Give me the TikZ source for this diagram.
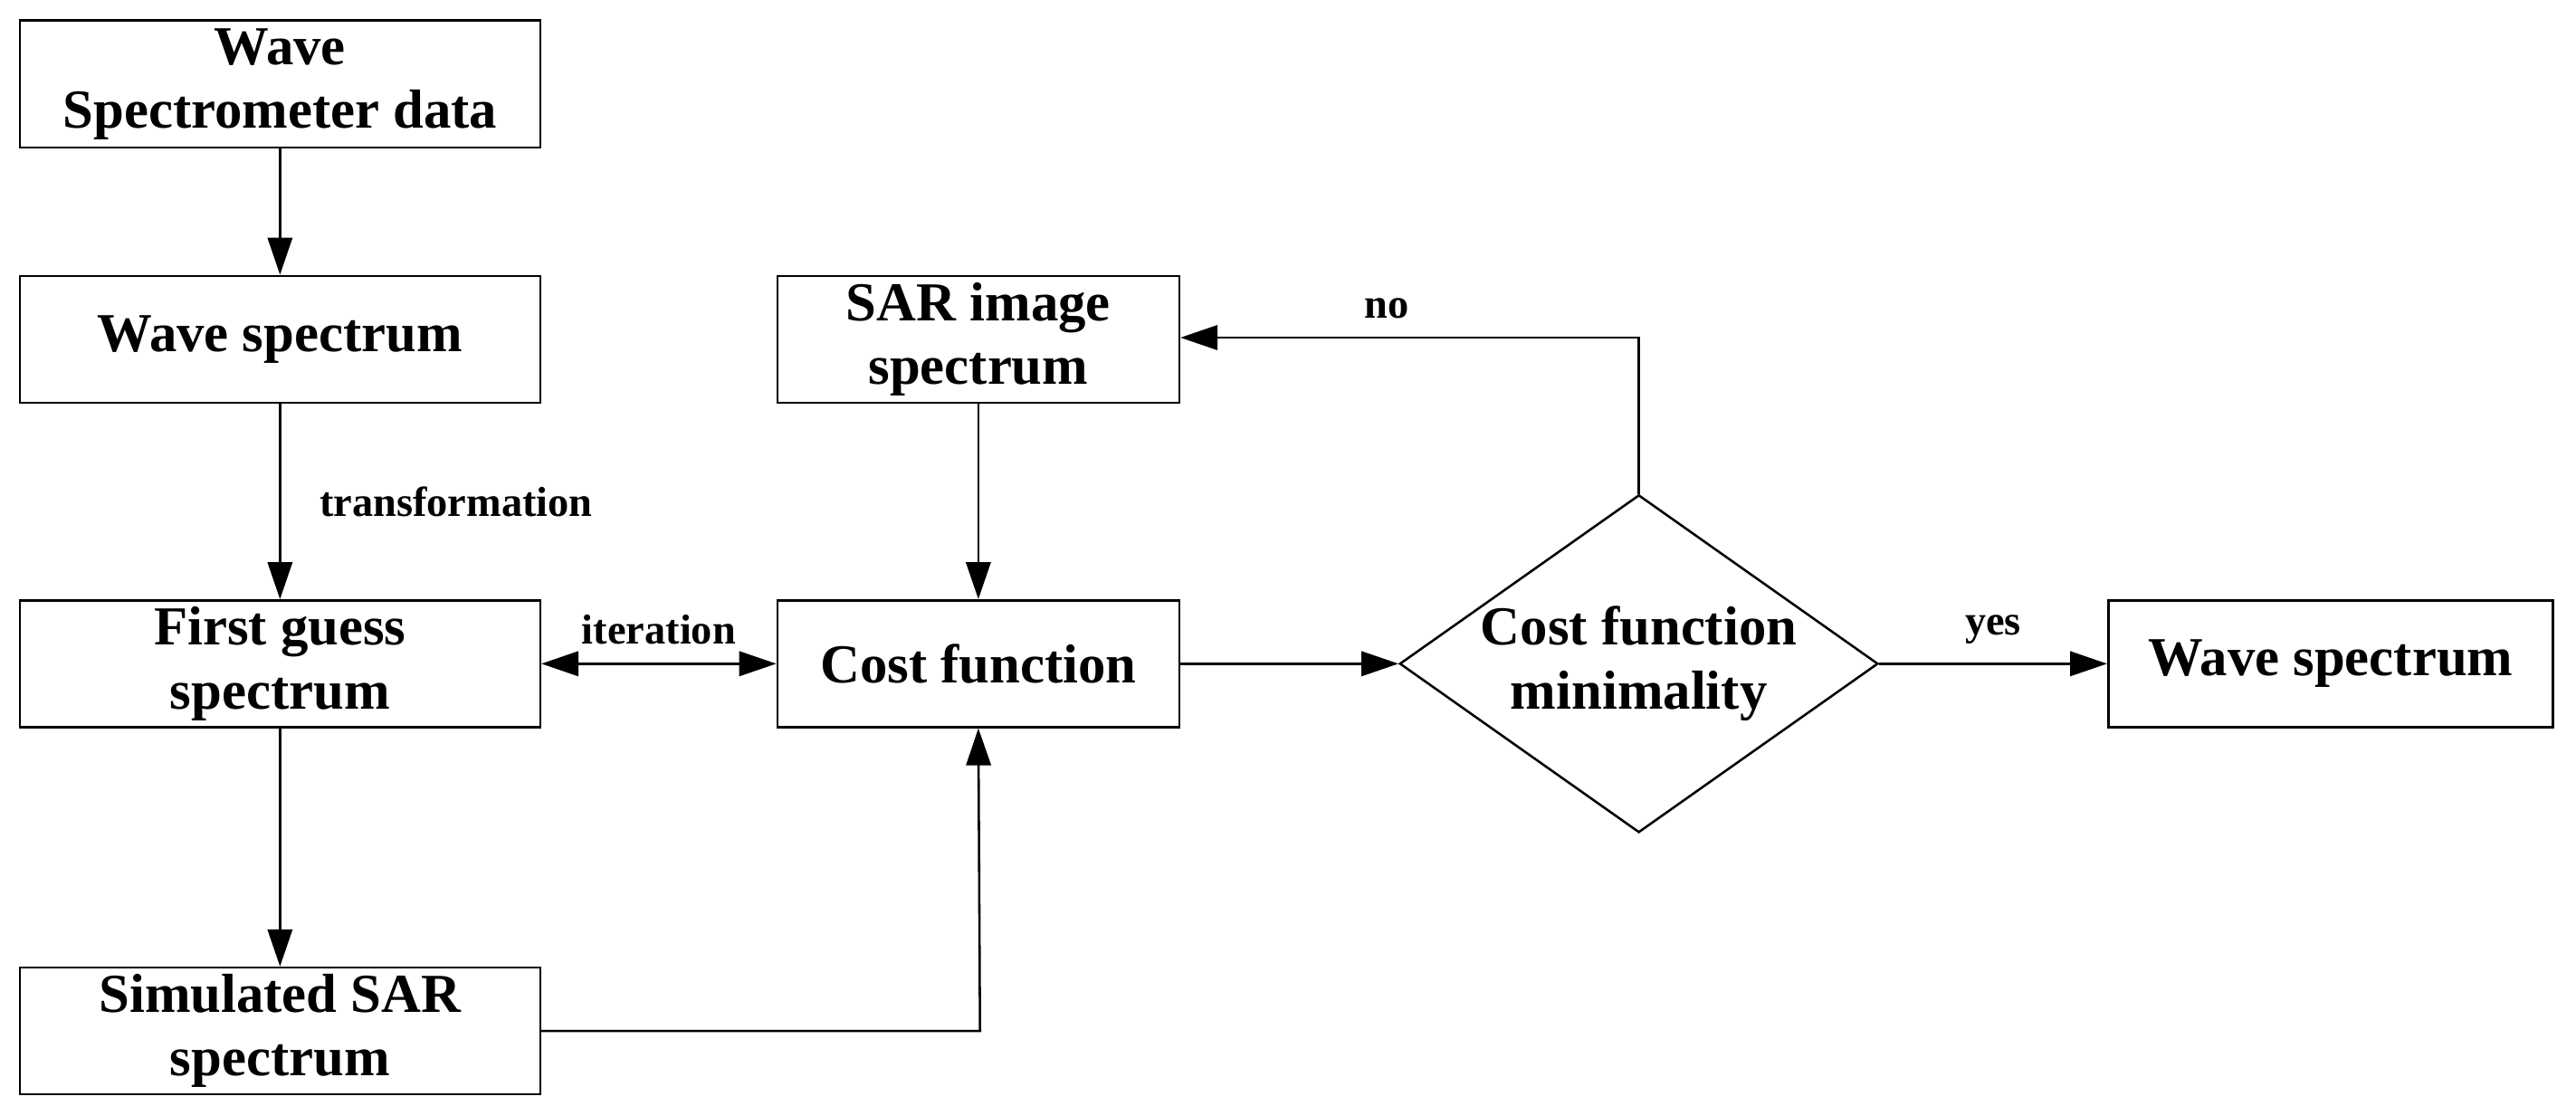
\documentclass[tikz,border=0pt]{standalone}
\usepackage{fontspec}
\setmainfont{Liberation Serif}
\usetikzlibrary{arrows.meta,shapes.geometric}
\begin{document}
\begin{tikzpicture}[x=0.02cm,y=-0.02cm,
  box/.style={draw,line width=0.8pt,minimum width=316*0.02cm,minimum height=77*0.02cm,align=center,font=\fontsize{19}{22}\selectfont\bfseries,inner sep=1pt},
  lab/.style={font=\fontsize{14.5}{17}\selectfont\bfseries},
  arr/.style={line width=0.8pt,-{Triangle[length=0.45cm,width=0.3cm]}}]
\useasboundingbox (0,0) rectangle (1564,671);
\node[box] (a) at (170,51) {Wave\\Spectrometer data};
\node[box] (b) at (170,206) {Wave spectrum};
\node[box] (c) at (170,403) {First guess\\spectrum};
\node[box] (d) at (170,626) {Simulated SAR\\spectrum};
\node[box,minimum width=244*0.02cm] (s) at (594,206) {SAR image\\spectrum};
\node[box,minimum width=244*0.02cm] (f) at (594,403) {Cost function};
\node[draw,line width=0.8pt,diamond,aspect=1.42,minimum width=290*0.02cm,minimum height=205*0.02cm,inner sep=0pt,align=center,font=\fontsize{19}{22}\selectfont\bfseries] (m) at (995,403) {Cost function\\minimality};
\node[box,minimum width=270*0.02cm] (w) at (1415,403) {Wave spectrum};
\coordinate (t1) at (995,205);
\coordinate (t2) at (595,626);
\draw[arr] (a) -- (b);
\draw[arr] (b) -- (c) node[lab,pos=0.5,right=10pt] {transformation};
\draw[line width=0.8pt,{Triangle[length=0.45cm,width=0.3cm]}-{Triangle[length=0.45cm,width=0.3cm]}] (c) -- (f) node[lab,midway,above=3pt] {iteration};
\draw[arr] (c) -- (d);
\draw[arr] (s) -- (f);
\draw[arr] (d.east) -- (t2) -- (f.south);
\draw[arr] (f) -- (m);
\draw[arr] (m) -- (w) node[lab,midway,above=3pt] {yes};
\draw[arr] (m.north) -- (t1) -- (s.east|-t1) node[lab,pos=0.55,above=3pt] {no};
\end{tikzpicture}
\end{document}
